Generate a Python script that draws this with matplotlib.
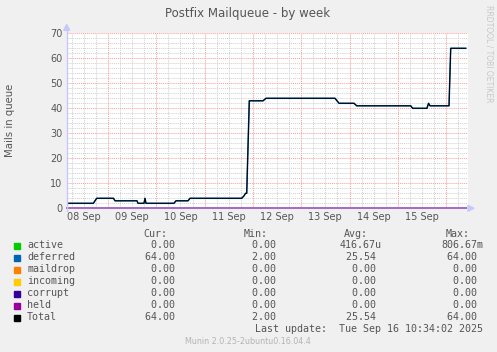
import matplotlib
matplotlib.use("Agg")
import matplotlib.pyplot as plt
from matplotlib.patches import Rectangle, Polygon

W, H = 497, 352

# time in days since 08 Sep 00:00, total queue size
TIMES = [0.145, 0.696, 0.766, 1.114, 1.145, 1.600, 1.621, 1.745, 1.766, 1.787,
         2.366, 2.408, 2.656, 2.698, 3.768, 3.816, 3.847, 3.872, 3.925, 4.209,
         4.271, 5.700, 5.783, 6.093, 6.149, 7.267, 7.308, 7.604, 7.636, 7.667,
         8.060, 8.095, 8.406]
TOTAL = [2, 2, 4, 4, 3, 3, 2, 2, 4, 2,
         2, 3, 3, 4, 4, 5, 6, 6, 43, 43,
         44, 44, 42, 42, 41, 41, 40, 40, 42, 41,
         41, 64, 64]
DAY_LABELS = ["08 Sep", "09 Sep", "10 Sep", "11 Sep", "12 Sep", "13 Sep", "14 Sep", "15 Sep"]

NAMES = ["active", "deferred", "maildrop", "incoming", "corrupt", "held", "Total"]
COLORS = ["#00cc00", "#0066b3", "#ff8000", "#ffcc00", "#330099", "#990099", "#000000"]
CUR = ["0.00", "64.00", "0.00", "0.00", "0.00", "0.00", "64.00"]
MIN = ["0.00", "2.00", "0.00", "0.00", "0.00", "0.00", "2.00"]
AVG = ["416.67u", "25.54", "0.00", "0.00", "0.00", "0.00", "25.54"]
MAX = ["806.67m", "64.00", "0.00", "0.00", "0.00", "0.00", "64.00"]

TXT = "#555555"


def fx(px):
    return px / W


def fy(py):
    return 1 - py / H


fig = plt.figure(figsize=(W / 100, H / 100), dpi=100, facecolor="#f0f0f0")
left, right, top, bot = 66.7, 468, 33.3, 208.3
ax = fig.add_axes([fx(left), fy(bot), fx(right - left), fy(top) - fy(bot)])
ax.set_facecolor("white")
for s in ax.spines.values():
    s.set_visible(False)

x0, x1 = 0.145, 8.453
ax.set_xlim(x0, x1)
ax.set_ylim(0, 70)

# grid
dot = (0, (1, 1))
t = 0.25
while t < x1:
    if t > x0:
        if abs(t - round(t)) < 1e-6:
            ax.axvline(t, color="#ff9999", lw=0.7, ls=dot, zorder=1)
        else:
            ax.axvline(t, color="#d0d0d0", lw=0.7, ls=dot, zorder=0)
    t += 0.25
for v in range(2, 71, 2):
    if v % 10 == 0:
        ax.axhline(v, color="#ff9999", lw=0.7, ls=dot, zorder=1)
    else:
        ax.axhline(v, color="#d0d0d0", lw=0.7, ls=dot, zorder=0)

ax.set_xticks([i + 0.5 for i in range(len(DAY_LABELS))])
ax.set_xticklabels(DAY_LABELS)
ax.set_yticks(range(0, 71, 10))
ax.tick_params(length=0, labelsize=7, colors=TXT, pad=3)

# series
zeros = [0] * len(TIMES)
for name, col in zip(NAMES[:-1], COLORS[:-1]):
    if name == "deferred":
        ax.plot(TIMES, TOTAL, color=col, lw=1.1, zorder=3)
    else:
        ax.plot(TIMES, zeros, color="#c080e0" if name == "held" else col, lw=1.1, zorder=3, clip_on=False)
ax.plot(TIMES, TOTAL, color=COLORS[-1], lw=0.75, zorder=4)

# axis arrows
ac = "#c8c8ff"
fig.add_artist(plt.Line2D([fx(left), fx(left)], [fy(bot + 3), fy(top - 4)], color=ac, lw=1))
fig.add_artist(Polygon([[fx(left - 3), fy(top - 3)], [fx(left + 3), fy(top - 3)], [fx(left), fy(top - 9)]],
                       closed=True, color=ac, transform=fig.transFigure))
fig.add_artist(Polygon([[fx(right), fy(bot - 3)], [fx(right), fy(bot + 3)], [fx(right + 6), fy(bot)]],
                       closed=True, color=ac, transform=fig.transFigure))

fig.text(fx(248), fy(14), "Postfix Mailqueue - by week", ha="center", va="center", fontsize=8.5, color=TXT)
fig.text(fx(10), fy(120), "Mails in queue", rotation=90, ha="center", va="center", fontsize=7.3, color=TXT)
fig.text(fx(489), fy(5), "RRDTOOL / TOBI OETIKER", rotation=270, ha="center", va="top", fontsize=5.5, color="#c8c8c8")

mono = "DejaVu Sans Mono"
fs = 7.2
hy = 234
fig.text(fx(167), fy(hy), "Cur:", ha="right", va="center", family=mono, fontsize=fs, color=TXT)
fig.text(fx(268), fy(hy), "Min:", ha="right", va="center", family=mono, fontsize=fs, color=TXT)
fig.text(fx(368), fy(hy), "Avg:", ha="right", va="center", family=mono, fontsize=fs, color=TXT)
fig.text(fx(470), fy(hy), "Max:", ha="right", va="center", family=mono, fontsize=fs, color=TXT)


def pad(s):
    return s if s[-1].isalpha() else s + " "


for i, name in enumerate(NAMES):
    y = 245.5 + 12 * i
    fig.add_artist(Rectangle((fx(14), fy(y + 3)), fx(6), fy(y - 3) - fy(y + 3), color=COLORS[i],
                             transform=fig.transFigure))
    fig.text(fx(27), fy(y), name, ha="left", va="center", family=mono, fontsize=fs, color=TXT)
    fig.text(fx(181), fy(y), pad(CUR[i]), ha="right", va="center", family=mono, fontsize=fs, color=TXT)
    fig.text(fx(282), fy(y), pad(MIN[i]), ha="right", va="center", family=mono, fontsize=fs, color=TXT)
    fig.text(fx(382), fy(y), pad(AVG[i]), ha="right", va="center", family=mono, fontsize=fs, color=TXT)
    fig.text(fx(483), fy(y), pad(MAX[i]), ha="right", va="center", family=mono, fontsize=fs, color=TXT)

fig.text(fx(483), fy(329.5), "Last update:  Tue Sep 16 10:34:02 2025", ha="right", va="center",
         family=mono, fontsize=fs, color=TXT)
fig.text(fx(248), fy(341), "Munin 2.0.25-2ubuntu0.16.04.4", ha="center", va="center",
         fontsize=5.8, color="#b4b4b4")

fig.savefig("out.png", dpi=100, facecolor=fig.get_facecolor())
